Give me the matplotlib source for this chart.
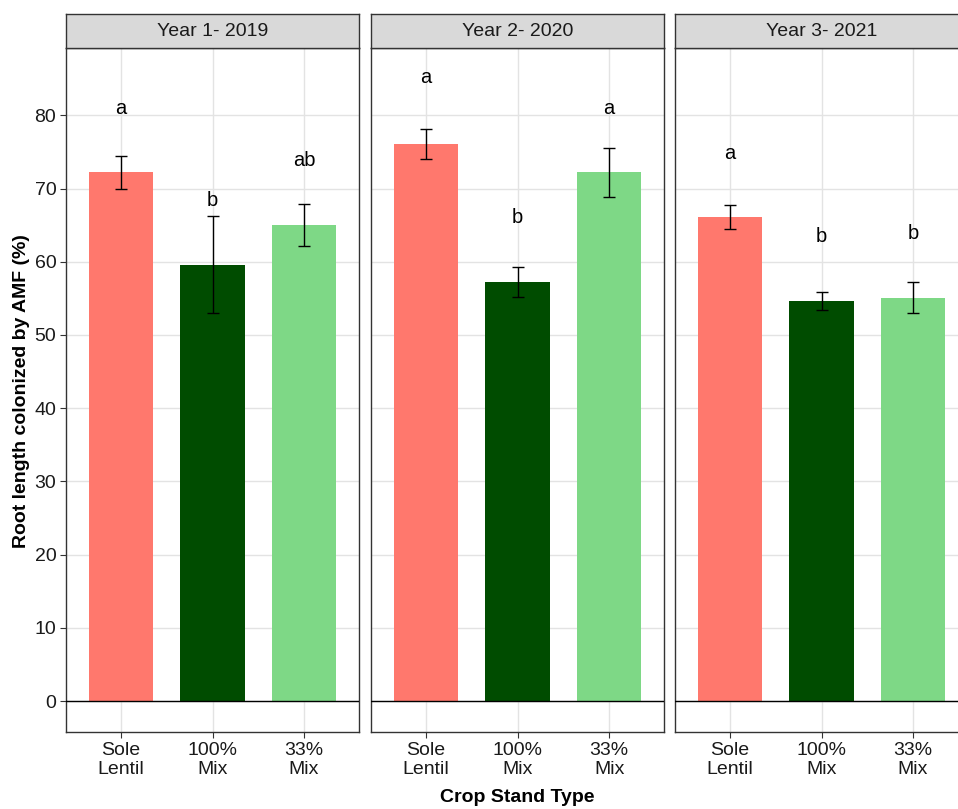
import matplotlib
matplotlib.use("Agg")
import matplotlib.pyplot as plt
import numpy as np

plt.rcParams['font.family'] = ['Liberation Sans', 'DejaVu Sans']

years = ["Year 1- 2019", "Year 2- 2020", "Year 3- 2021"]
categories = ["Sole\nLentil", "100%\nMix", "33%\nMix"]
colors = ["#FF786D", "#004C00", "#7ED886"]

means = [
    [72.2, 59.6, 65.0],
    [76.1, 57.3, 72.2],
    [66.1, 54.6, 55.1],
]
se = [
    [2.2, 6.6, 2.85],
    [2.1, 2.05, 3.4],
    [1.6, 1.25, 2.15],
]
letters = [
    ["a", "b", "ab"],
    ["a", "b", "a"],
    ["a", "b", "b"],
]
letter_y = [
    [81.0, 68.4, 73.8],
    [85.2, 66.1, 80.9],
    [74.8, 63.4, 63.8],
]
yticks = [0, 10, 20, 30, 40, 50, 60, 70, 80]

W, H = 958, 809
fig = plt.figure(figsize=(W / 100, H / 100), dpi=100)

panel_left = [66, 371, 675]
panel_w = 293
panel_top, panel_bottom = 48, 732
strip_top = 14
edge = "#333333"

x = np.arange(1, 4)
for i in range(3):
    l = panel_left[i] / W
    b = (H - panel_bottom) / H
    w = panel_w / W
    h = (panel_bottom - panel_top) / H
    ax = fig.add_axes([l, b, w, h])
    ax.set_xlim(0.4, 3.6)
    ax.set_ylim(-4.23, 89.2)
    ax.set_axisbelow(True)
    ax.grid(True, which='major', color="#E3E3E3", linewidth=1.0)
    ax.bar(x, means[i], width=0.7, color=colors, zorder=2)
    ax.errorbar(x, means[i], yerr=se[i], fmt='none', ecolor='black',
                elinewidth=1.0, capsize=4.5, capthick=1.0, zorder=3)
    ax.axhline(0, color='black', linewidth=1.0, zorder=4)
    for j in range(3):
        ax.text(x[j], letter_y[i][j], letters[i][j], ha='center', va='center',
                fontsize=14.5, color='black', zorder=5)
    ax.set_xticks(x)
    ax.set_xticklabels(categories, fontsize=14, color="#1a1a1a", linespacing=1.2)
    ax.set_yticks(yticks)
    if i == 0:
        ax.set_yticklabels([str(v) for v in yticks], fontsize=14, color="#1a1a1a")
    else:
        ax.tick_params(axis='y', left=False, labelleft=False)
    ax.tick_params(axis='both', length=4, color=edge, width=0.8, pad=3)
    for s in ax.spines.values():
        s.set_color(edge)
        s.set_linewidth(1.0)

    # strip
    sax = fig.add_axes([l, (H - panel_top) / H, w, (panel_top - strip_top) / H])
    sax.set_facecolor("#D9D9D9")
    sax.set_xticks([])
    sax.set_yticks([])
    for s in sax.spines.values():
        s.set_color(edge)
        s.set_linewidth(1.0)
    sax.text(0.5, 0.5, years[i], ha='center', va='center', fontsize=14,
             color="#1a1a1a", transform=sax.transAxes)

fig.text(22 / W, 1 - 391 / H,
         "Root length colonized by AMF (%)", rotation=90, ha='center',
         va='center', fontsize=14, fontweight='bold')
fig.text(517 / W, 1 - 798 / H, "Crop Stand Type", ha='center', va='center',
         fontsize=14, fontweight='bold')

fig.savefig("out.png", dpi=100)
